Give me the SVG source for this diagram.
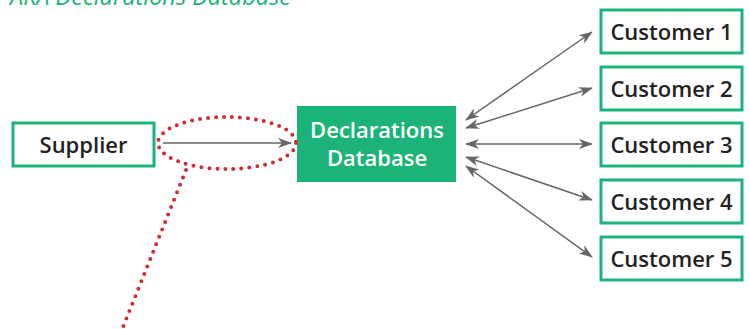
<svg xmlns="http://www.w3.org/2000/svg" width="749" height="329" viewBox="0 0 749 329">
<defs>
<style>
.box{fill:#fff;stroke:#1db37a;stroke-width:3}
.lbl{font-family:"Open Sans","Noto Sans",sans-serif;font-weight:600;font-size:22px;fill:#222;text-anchor:middle}
.db{font-family:"Open Sans","Noto Sans",sans-serif;font-weight:600;font-size:22px;fill:#fff;text-anchor:middle}
.conn{stroke:#666;stroke-width:1.5;fill:none}
.dots{stroke:#d42a35;stroke-width:4;stroke-linecap:round;stroke-dasharray:0 8;fill:none}
</style>
<marker id="ah" viewBox="0 0 14 10" refX="13" refY="5" markerWidth="14" markerHeight="10" markerUnits="userSpaceOnUse" orient="auto-start-reverse">
<path d="M0,0 L14,5 L0,10 L4,5 Z" fill="#666"/>
</marker>
</defs>
<text x="10" y="4.5" font-family="Open Sans,Noto Sans,sans-serif" font-style="italic" font-size="23.5" fill="#1db37a">AKA Declarations Database</text>
<g id="connectors">
<line class="conn" x1="163" y1="143" x2="291" y2="143" marker-end="url(#ah)"/>
<line class="conn" x1="466" y1="120" x2="592" y2="32" marker-start="url(#ah)" marker-end="url(#ah)"/>
<line class="conn" x1="466" y1="128" x2="592" y2="88" marker-start="url(#ah)" marker-end="url(#ah)"/>
<line class="conn" x1="466" y1="144" x2="592" y2="144" marker-start="url(#ah)" marker-end="url(#ah)"/>
<line class="conn" x1="466" y1="157" x2="592" y2="200" marker-start="url(#ah)" marker-end="url(#ah)"/>
<line class="conn" x1="466" y1="166" x2="592" y2="257" marker-start="url(#ah)" marker-end="url(#ah)"/>
</g>
<g id="supplier">
<rect class="box" x="13" y="123" width="141" height="43"/>
<text class="lbl" x="83.5" y="152.5">Supplier</text>
</g>
<g id="database">
<rect x="297" y="106" width="159" height="76" fill="#1bb377"/>
<text class="db" x="377" y="138">Declarations</text>
<text class="db" x="377" y="166">Database</text>
</g>
<g id="customer1"><rect class="box" x="601" y="10" width="141" height="43"/><text class="lbl" x="671.5" y="39.5">Customer 1</text></g>
<g id="customer2"><rect class="box" x="601" y="67" width="141" height="43"/><text class="lbl" x="671.5" y="96.5">Customer 2</text></g>
<g id="customer3"><rect class="box" x="601" y="123" width="141" height="43"/><text class="lbl" x="671.5" y="152.5">Customer 3</text></g>
<g id="customer4"><rect class="box" x="601" y="180" width="141" height="43"/><text class="lbl" x="671.5" y="209.5">Customer 4</text></g>
<g id="customer5"><rect class="box" x="601" y="237" width="141" height="43"/><text class="lbl" x="671.5" y="266.5">Customer 5</text></g>
<g id="highlight">
<ellipse class="dots" cx="227" cy="143" rx="69" ry="26"/>
<line class="dots" x1="186" y1="170" x2="123" y2="327"/>
</g>
</svg>
